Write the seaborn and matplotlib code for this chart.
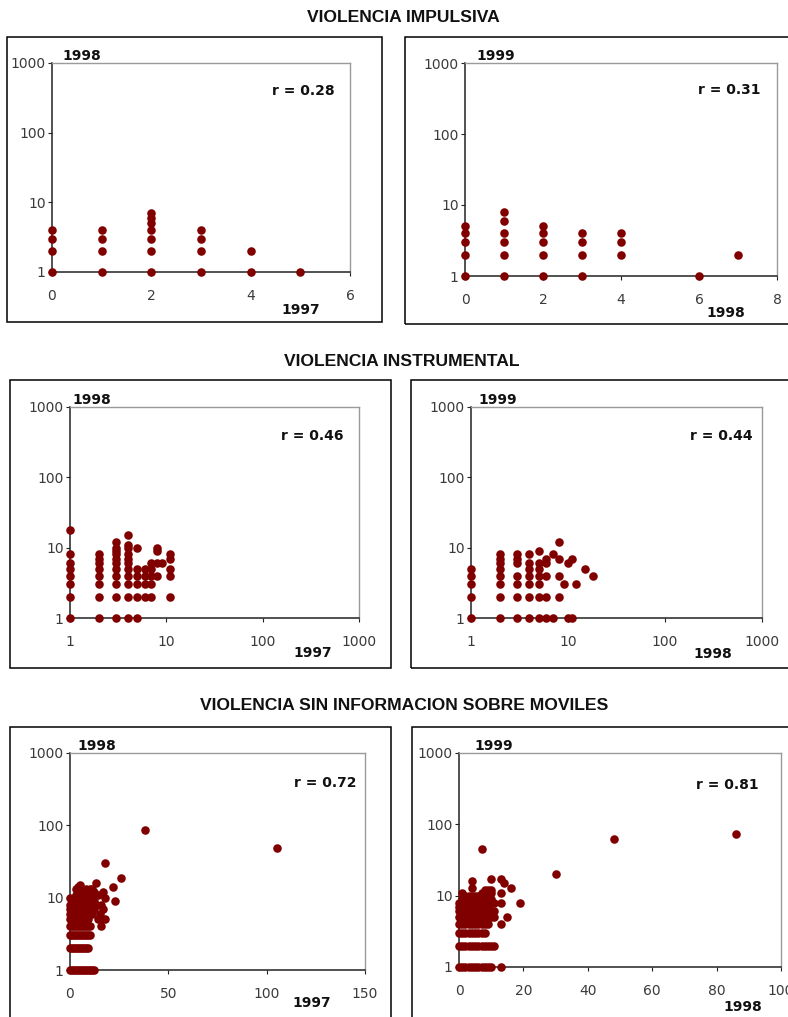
import matplotlib
matplotlib.use("Agg")
import matplotlib.pyplot as plt
import matplotlib.ticker as mticker
from matplotlib.patches import Rectangle
import seaborn as sns

sns.set_theme(style="white")
plt.rcParams["font.family"] = ["DejaVu Sans"]

W, H = 788, 1017
DOT = "#800000"

# ---------------- data ----------------
# VIOLENCIA IMPULSIVA, 1997 -> 1998
imp_a_x = [0, 0, 0, 0, 1, 1, 1, 1, 2, 2, 2, 2, 2, 2, 2, 3, 3, 3, 3, 4, 4, 5]
imp_a_y = [1, 2, 3, 4, 1, 2, 3, 4, 1, 2, 3, 4, 5, 6, 7, 1, 2, 3, 4, 1, 2, 1]

# VIOLENCIA IMPULSIVA, 1998 -> 1999
imp_b_x = [0, 0, 0, 0, 0, 1, 1, 1, 1, 1, 1, 2, 2, 2, 2, 2, 3, 3, 3, 3, 4, 4, 4, 6, 7]
imp_b_y = [1, 2, 3, 4, 5, 1, 2, 3, 4, 6, 8, 1, 2, 3, 4, 5, 1, 2, 3, 4, 2, 3, 4, 1, 2]

# VIOLENCIA INSTRUMENTAL, 1997 -> 1998
ins_a_x = [1, 1, 1, 1, 1, 1, 1, 1,
           2, 2, 2, 2, 2, 2, 2, 2,
           3, 3, 3, 3, 3, 3, 3, 3, 3, 3, 3,
           4, 4, 4, 4, 4, 4, 4, 4, 4, 4, 4,
           5, 5, 5, 5, 5, 5,
           6, 6, 6, 6,
           7, 7, 7, 7, 7,
           8, 8, 8, 8,
           9,
           11, 11, 11, 11, 11]
ins_a_y = [1, 2, 3, 4, 5, 6, 8, 18,
           1, 2, 3, 4, 5, 6, 7, 8,
           1, 2, 3, 4, 5, 6, 7, 8, 9, 10, 12,
           1, 2, 3, 4, 5, 6, 7, 8, 10, 11, 15,
           1, 2, 3, 4, 5, 10,
           2, 3, 4, 5,
           2, 3, 4, 5, 6,
           4, 6, 9, 10,
           6,
           2, 4, 5, 7, 8]

# VIOLENCIA INSTRUMENTAL, 1998 -> 1999
ins_b_x = [1, 1, 1, 1, 1,
           2, 2, 2, 2, 2, 2, 2, 2,
           3, 3, 3, 3, 3, 3, 3,
           4, 4, 4, 4, 4, 4, 4,
           5, 5, 5, 5, 5, 5, 5,
           6, 6, 6, 6, 6,
           7, 7,
           8, 8, 8, 8,
           9, 10, 10, 11, 11, 12, 15, 18]
ins_b_y = [1, 2, 3, 4, 5,
           1, 2, 3, 4, 5, 6, 7, 8,
           1, 2, 3, 4, 6, 7, 8,
           1, 2, 3, 4, 5, 6, 8,
           1, 2, 3, 4, 5, 6, 9,
           1, 2, 4, 6, 7,
           1, 8,
           2, 4, 7, 12,
           3, 1, 6, 1, 7, 3, 5, 4]

# VIOLENCIA SIN INFORMACION SOBRE MOVILES, 1997 -> 1998
sin_a_x = [0, 1, 2, 3, 4, 5, 6, 7, 8, 9, 10, 11, 12,
           0, 1, 2, 3, 4, 5, 6, 7, 8, 9,
           0, 1, 2, 3, 4, 5, 6, 7, 8, 9, 10,
           0, 1, 2, 3, 4, 5, 6, 7, 8, 9, 10, 16,
           0, 1, 2, 3, 4, 5, 6, 7, 8, 9, 14, 16, 18,
           0, 1, 2, 3, 4, 5, 6, 7, 8, 9, 10, 11, 15,
           0, 1, 2, 3, 4, 5, 6, 7, 8, 9, 10, 11, 12, 17,
           0, 1, 2, 3, 4, 5, 6, 7, 8, 9, 10, 11, 12, 13, 16,
           1, 2, 3, 4, 5, 6, 7, 8, 9, 10, 11, 12, 23,
           0, 2, 3, 4, 5, 6, 7, 8, 9, 10, 11, 18,
           3, 4, 5, 6, 7, 8, 9, 10, 14,
           4, 5, 6, 7, 8, 9, 12, 17,
           3, 5, 6, 8, 10, 11,
           4, 22,
           5, 13, 26, 18, 38, 105]
sin_a_y = [1, 1, 1, 1, 1, 1, 1, 1, 1, 1, 1, 1, 1,
           2, 2, 2, 2, 2, 2, 2, 2, 2, 2,
           3, 3, 3, 3, 3, 3, 3, 3, 3, 3, 3,
           4, 4, 4, 4, 4, 4, 4, 4, 4, 4, 4, 4,
           5, 5, 5, 5, 5, 5, 5, 5, 5, 5, 5, 5, 5,
           6, 6, 6, 6, 6, 6, 6, 6, 6, 6, 6, 6, 6,
           7, 7, 7, 7, 7, 7, 7, 7, 7, 7, 7, 7, 7, 7,
           8, 8, 8, 8, 8, 8, 8, 8, 8, 8, 8, 8, 8, 8, 8,
           9, 9, 9, 9, 9, 9, 9, 9, 9, 9, 9, 9, 9,
           10, 10, 10, 10, 10, 10, 10, 10, 10, 10, 10, 10,
           11, 11, 11, 11, 11, 11, 11, 11, 11,
           12, 12, 12, 12, 12, 12, 12, 12,
           13, 13, 13, 13, 13, 13,
           14, 14,
           15, 16, 19, 30, 87, 48]

# VIOLENCIA SIN INFORMACION SOBRE MOVILES, 1998 -> 1999
sin_b_x = [0, 1, 2, 3, 4, 5, 6, 7, 8, 9, 10, 13,
           0, 1, 2, 3, 4, 5, 6, 7, 8, 9, 10, 11,
           0, 1, 2, 3, 4, 5, 6, 7, 8,
           0, 1, 2, 3, 4, 5, 6, 7, 8, 9, 13,
           0, 1, 2, 3, 4, 5, 6, 7, 8, 9, 10, 11, 15,
           0, 1, 2, 3, 4, 5, 6, 7, 8, 9, 10, 11,
           0, 1, 2, 3, 4, 5, 6, 7, 8, 9,
           0, 1, 2, 3, 4, 5, 6, 7, 8, 9, 10, 11, 13, 19,
           1, 2, 3, 4, 5, 6, 7, 8, 9, 10,
           2, 3, 4, 5, 6, 7, 8, 9,
           1, 7, 8, 9, 10, 13,
           8, 9, 10,
           4, 16, 14, 4, 10, 13,
           30, 7, 48, 86]
sin_b_y = [1, 1, 1, 1, 1, 1, 1, 1, 1, 1, 1, 1,
           2, 2, 2, 2, 2, 2, 2, 2, 2, 2, 2, 2,
           3, 3, 3, 3, 3, 3, 3, 3, 3,
           4, 4, 4, 4, 4, 4, 4, 4, 4, 4, 4,
           5, 5, 5, 5, 5, 5, 5, 5, 5, 5, 5, 5, 5,
           6, 6, 6, 6, 6, 6, 6, 6, 6, 6, 6, 6,
           7, 7, 7, 7, 7, 7, 7, 7, 7, 7,
           8, 8, 8, 8, 8, 8, 8, 8, 8, 8, 8, 8, 8, 8,
           9, 9, 9, 9, 9, 9, 9, 9, 9, 9,
           10, 10, 10, 10, 10, 10, 10, 10,
           11, 11, 11, 11, 11, 11,
           12, 12, 12,
           13, 13, 15, 16, 17, 17,
           20, 45, 63, 74]

section_titles = ["VIOLENCIA IMPULSIVA", "VIOLENCIA INSTRUMENTAL",
                  "VIOLENCIA SIN INFORMACION SOBRE MOVILES"]
r_values = ["0.28", "0.31", "0.46", "0.44", "0.72", "0.81"]
y_ticks = [1, 10, 100, 1000]

# ---------------- layout (pixels of the 788x1017 canvas) ----------------
fig = plt.figure(figsize=(7.88, 10.17), dpi=100)
fig.patch.set_facecolor("white")


def rect(x0, y0, x1, y1):
    return [x0 / W, 1 - y1 / H, (x1 - x0) / W, (y1 - y0) / H]


def frame(x0, y0, x1, y1):
    fig.add_artist(Rectangle((x0 / W, 1 - y1 / H), (x1 - x0) / W, (y1 - y0) / H,
                             transform=fig.transFigure, fill=False,
                             ec="black", lw=1.1))


def panel(box, xs, ys, xlog, xlim, xticks, ylab, ylab_x, xlab, xlab_pos, r, r_pos):
    ax = fig.add_axes(rect(*box))
    sns.scatterplot(x=xs, y=ys, ax=ax, color=DOT, s=38, linewidth=0,
                    alpha=1, clip_on=False, zorder=4, legend=False)
    ax.set_yscale("log")
    ax.set_ylim(1, 1000)
    ax.set_yticks(y_ticks)
    if xlog:
        ax.set_xscale("log")
    ax.set_xlim(*xlim)
    ax.set_xticks(xticks)
    fmt = mticker.FuncFormatter(lambda v, p: f"{v:g}")
    ax.xaxis.set_major_formatter(fmt)
    ax.yaxis.set_major_formatter(fmt)
    ax.xaxis.set_minor_locator(mticker.NullLocator())
    ax.yaxis.set_minor_locator(mticker.NullLocator())
    ax.set_xlabel("")
    ax.set_ylabel("")
    for side in ["left", "bottom"]:
        ax.spines[side].set_color("#222222")
        ax.spines[side].set_linewidth(1.1)
    for side in ["top", "right"]:
        ax.spines[side].set_color("#9a9a9a")
        ax.spines[side].set_linewidth(1.0)
    ax.tick_params(axis="both", which="major", bottom=True, left=True,
                   direction="out", length=3, width=0.8, color="#222222",
                   labelsize=10, labelcolor="#3a3a3a")
    ax.tick_params(axis="x", pad=9)
    ax.tick_params(axis="y", pad=1.5)
    ax.text(ylab_x, 1.0, ylab, transform=ax.transAxes, ha="left", va="bottom",
            fontsize=10, fontweight="bold", color="#111111")
    ax.text(xlab_pos[0], xlab_pos[1], xlab, transform=ax.transAxes, ha="center",
            va="center", fontsize=10, fontweight="bold", color="#111111")
    ax.text(r_pos[0], r_pos[1], "r = " + r, transform=ax.transAxes, ha="right",
            va="center", fontsize=10, fontweight="bold", color="#111111")
    return ax


# frames
frame(7, 37, 382, 322)
frame(405, 37, 795, 324)
frame(10, 380, 391, 668)
frame(411, 380, 795, 668)
frame(10, 727, 391, 1025)
frame(412, 727, 795, 1025)

panel((52, 63, 350, 272), imp_a_x, imp_a_y, False, (0, 6), [0, 2, 4, 6],
      "1998", 0.034, "1997", (0.836, -0.18), r_values[0], (0.95, 0.866))
panel((465, 63, 777, 276), imp_b_x, imp_b_y, False, (0, 8), [0, 2, 4, 6, 8],
      "1999", 0.038, "1998", (0.836, -0.174), r_values[1], (0.946, 0.873))
panel((70, 407, 359, 618), ins_a_x, ins_a_y, True, (1, 1000), [1, 10, 100, 1000],
      "1998", 0.01, "1997", (0.84, -0.166), r_values[2], (0.945, 0.862))
panel((471, 407, 762, 618), ins_b_x, ins_b_y, True, (1, 1000), [1, 10, 100, 1000],
      "1999", 0.024, "1998", (0.832, -0.17), r_values[3], (0.969, 0.862))
panel((70, 753, 365, 970), sin_a_x, sin_a_y, False, (0, 150), [0, 50, 100, 150],
      "1998", 0.024, "1997", (0.82, -0.152), r_values[4], (0.97, 0.862))
panel((459, 753, 781, 967), sin_b_x, sin_b_y, False, (0, 100), [0, 20, 40, 60, 80, 100],
      "1999", 0.047, "1998", (0.882, -0.187), r_values[5], (0.93, 0.85))

# section titles
for t, (cx, cy) in zip(section_titles, [(403, 18), (402, 361), (404, 706)]):
    fig.text(cx / W, 1 - cy / H, t, ha="center", va="center", fontsize=12.6,
             fontweight="bold", family=["Liberation Sans", "DejaVu Sans"],
             color="#111111")

fig.savefig("out.png", dpi=100, facecolor="white")
